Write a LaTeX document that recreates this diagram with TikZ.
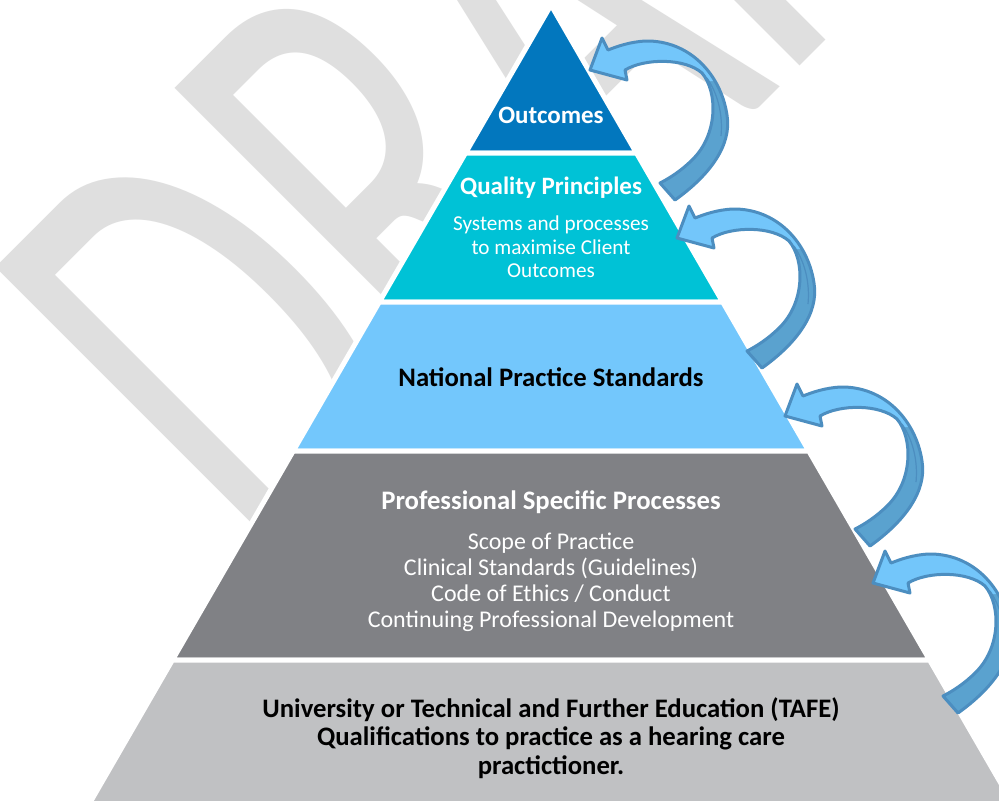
\documentclass[tikz,border=0pt]{standalone}
\usepackage{fontspec}
\setmainfont{Carlito}
\usetikzlibrary{positioning,calc}

\definecolor{outcomeblue}{HTML}{0277BE}
\definecolor{principlecyan}{HTML}{00C2D6}
\definecolor{standardblue}{HTML}{73C7FC}
\definecolor{processgray}{HTML}{808185}
\definecolor{educationgray}{HTML}{C0C1C3}
\definecolor{draftgray}{HTML}{DFDFDF}
\definecolor{arrowlight}{HTML}{73C6FA}
\definecolor{arrowdark}{HTML}{5AA2CF}
\definecolor{arrowline}{HTML}{4C8EC0}

\tikzset{
  tier/.style={draw=white, line width=2.5pt},
  title/.style={font=\bfseries\fontsize{13.35}{14.3}\selectfont, align=center, inner sep=0pt},
  top title/.style={title, font=\bfseries\fontsize{12.5}{13.5}\selectfont},
  body/.style={font=\fontsize{12}{13}\selectfont, align=center, inner sep=0pt},
  small body/.style={body, font=\fontsize{10.6}{11.75}\selectfont},
  watermark/.style={text=draftgray, font=\fontsize{205}{205}\selectfont, inner sep=0pt},
  arrowedge/.style={draw=arrowline, line width=1.5pt, line join=round},
  curlarrow/.pic={
    \draw[arrowedge, fill=arrowdark, path picture={
        \fill[arrowlight] (-10,-40) -- (150,-40) -- (150,10) -- (40,14) -- (-10,14) -- cycle;
        \draw[arrowline, line width=0.6pt] (117,8) .. controls (128,24) and (133,45) .. (131,66);
      }]
      (85,130) .. controls (120,105) and (142,75) .. (137,45)
      .. controls (131,5) and (100,-30) .. (55,-29)
      .. controls (40,-28) and (28,-24) .. (18,-20)
      -- (12,-32) -- (0,0) -- (37,10) -- (35,0)
      .. controls (55,-12) and (95,-12) .. (112,3)
      .. controls (128,22) and (128,65) .. (102,90)
      .. controls (92,100) and (80,108) .. (70,113) -- cycle;
  }
}

\begin{document}
\begin{tikzpicture}[x=0.5pt, y=-0.5pt]
    \useasboundingbox (0,0) rectangle (999,800);
    \clip (0,0) rectangle (999,800);
    \fill[white] (0,0) rectangle (999,800);

    \node[watermark, rotate=45, anchor=base west] (draft) at (277,589) {\scalebox{1}[1.62]{DRAFT}};

    \filldraw[tier, fill=outcomeblue] (551,5) -- (636.5,153) -- (465.5,153) -- cycle;
    \filldraw[tier, fill=principlecyan] (465.5,153) -- (636.5,153) -- (722.7,302) -- (379.3,302) -- cycle;
    \filldraw[tier, fill=standardblue] (379.3,302) -- (722.7,302) -- (808.8,451) -- (293.2,451) -- cycle;
    \filldraw[tier, fill=processgray] (293.2,451) -- (808.8,451) -- (929.6,660) -- (172.4,660) -- cycle;
    \filldraw[tier, fill=educationgray] (172.4,660) -- (929.6,660) -- (1022.1,820) -- (79.9,820) -- cycle;

    \node[top title, text=white] (outcomes) at (551,115) {Outcomes};
    \node[top title, text=white] (quality) at (551,188) {Quality Principles};
    \node[small body, text=white] (systems) at (551,247) {Systems and processes\\to maximise Client\\Outcomes};
    \node[title] (national) at (551,377) {National Practice Standards};
    \node[title, text=white] (professional) at (551,502) {Professional Specific Processes};
    \node[body, text=white] (scope) at (551,582) {Scope of Practice\\Clinical Standards (Guidelines)\\Code of Ethics / Conduct\\Continuing Professional Development};
    \node[title] (university) at (551,738) {University or Technical and Further Education (TAFE)\\Qualifications to practice as a hearing care\\practictioner.};

    \foreach \tip [count=\i] in {(590,70), (677,238), (785,416), (873,583)}
        \pic (lift\i) at \tip {curlarrow};
\end{tikzpicture}
\end{document}
